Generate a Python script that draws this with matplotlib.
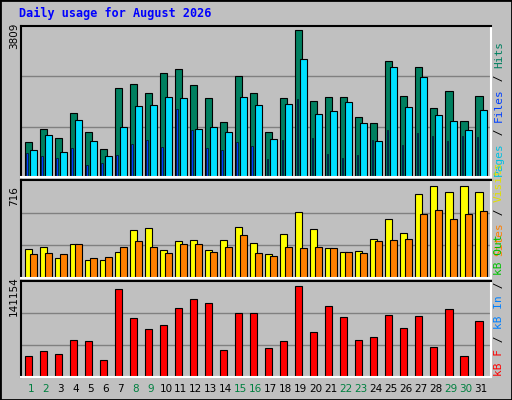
import matplotlib
matplotlib.use("Agg")
import matplotlib.pyplot as plt
import numpy as np

days = list(range(1, 32))
weekend = [1, 2, 8, 9, 15, 16, 22, 23, 29, 30]
f1 = 3809 / 442
hits = [round((470 - t) * f1) for t in [364,325,352,277,334,385,202,190,217,157,145,193,232,304,166,217,334,232,28,241,229,229,289,307,121,226,139,262,211,301,226]]
files = [round((470 - t) * f1) for t in [388,343,394,298,361,406,319,256,253,229,232,325,319,334,229,253,355,250,115,280,271,244,307,361,139,259,169,283,301,328,268]]
pages = [round((470 - t) * f1) for t in [397,406,412,382,433,427,403,370,358,379,265,328,382,388,364,376,415,358,235,352,400,412,403,358,328,373,337,346,361,346,349]]
f2 = 716 / 277
visits = [round((305 - t) * f2) for t in [217,211,244,202,250,250,226,160,154,220,193,190,220,190,151,199,232,172,106,157,214,226,223,187,127,169,52,28,46,28,46]]
sites = [round((305 - t) * f2) for t in [232,229,232,202,244,241,211,193,211,229,202,202,226,211,175,229,238,211,214,211,214,226,229,193,190,187,112,100,127,112,103]]
f3 = 141154 / 274
kbytes = [round((602 - t) * f3) for t in [538,523,532,490,493,550,337,424,457,445,394,367,379,520,409,409,514,493,328,466,388,421,490,481,415,454,418,511,397,538,433]]

W, H = 512, 400
fig = plt.figure(figsize=(W/100, H/100), dpi=100)
fig.patch.set_facecolor('#C0C0C0')
fig.add_artist(plt.Rectangle((0, 0), 1, 1, transform=fig.transFigure, fill=False, edgecolor='black', lw=2))
mono = 'DejaVu Sans Mono'
fig.text(19/W, 1 - 13/H, 'Daily usage for August 2026', color='#0000FF', fontsize=8.5,
         fontweight='bold', family=mono, va='center')

def mkax(top, bot):
    ax = fig.add_axes([21/W, 1 - bot/H, 470/W, (bot - top)/H])
    ax.set_facecolor('#C0C0C0')
    ax.set_xlim(0.4, 31.7)
    ax.set_xticks([]); ax.set_yticks([])
    for s in ['top', 'left']:
        ax.spines[s].set_color('black')
    for s in ['bottom', 'right']:
        ax.spines[s].set_color('white')
    for sp in ax.spines.values():
        sp.set_linewidth(1.5)
    return ax

x = np.array(days, dtype=float)
bw = 0.47
kw = dict(edgecolor='black', linewidth=0.8, align='edge')

ax1 = mkax(26, 177)
ym = 3809 * 1.025
ax1.set_ylim(0, ym)
for g in (ym/3, 2*ym/3):
    ax1.axhline(g, color='#808080', lw=1, zorder=0)
ax1.bar(x - 0.333, hits, bw, color='#008060', **kw)
ax1.bar(x - 0.02, files, bw, color='#00E0FF', **kw)
ax1.bar(x - 0.25, pages, 0.1, color='#0040FF', edgecolor='black', linewidth=0.4, align='edge')

ax2 = mkax(180, 278)
ym = 716 * 1.065
ax2.set_ylim(0, ym)
for g in (ym/3, 2*ym/3):
    ax2.axhline(g, color='#808080', lw=1, zorder=0)
ax2.bar(x - 0.333, visits, bw, color='#FFFF00', **kw)
ax2.bar(x - 0.02, sites, bw, color='#FF8000', **kw)

ax3 = mkax(281, 377)
ym = 141154 * 1.05
ax3.set_ylim(0, ym)
for g in (ym/3, 2*ym/3):
    ax3.axhline(g, color='#808080', lw=1, zorder=0)
ax3.bar(x - 0.333, kbytes, bw, color='#FF0000', **kw)

for d in days:
    xp = 21 + (d + 0.06 - 0.4) * 15
    fig.text(xp/W, 1 - 389/H, str(d), ha='center', va='center', fontsize=7.5,
             color='#008040' if d in weekend else 'black', family='DejaVu Sans')

for lab, yc in [('3809', 36), ('716', 196), ('141154', 296)]:
    fig.text(14/W, 1 - yc/H, lab, rotation=90, ha='center', va='center', fontsize=7.5, family='DejaVu Sans')

fig.canvas.draw()
rend = fig.canvas.get_renderer()

def rtext(parts, ybot):
    y = ybot
    for t, c in parts:
        tx = fig.text(499/W, 1 - y/H, t, rotation=90, ha='center', va='bottom', color=c,
                      fontsize=8, family=mono)
        ext = tx.get_window_extent(rend)
        y -= ext.height

rtext([('Pages', '#00C0E0'), (' / ', 'black'), ('Files', '#0040FF'), (' / ', 'black'), ('Hits', '#008060')], 176)
rtext([('Sites', '#FF8000'), (' / ', 'black'), ('Visits', '#E0E000')], 256)
rtext([('kB F', '#FF0000'), (' / ', 'black'), ('kB In', '#0080FF'), (' / ', 'black'), ('kB Out', '#00C000')], 376)

fig.savefig('out.png', dpi=100, facecolor=fig.get_facecolor())
